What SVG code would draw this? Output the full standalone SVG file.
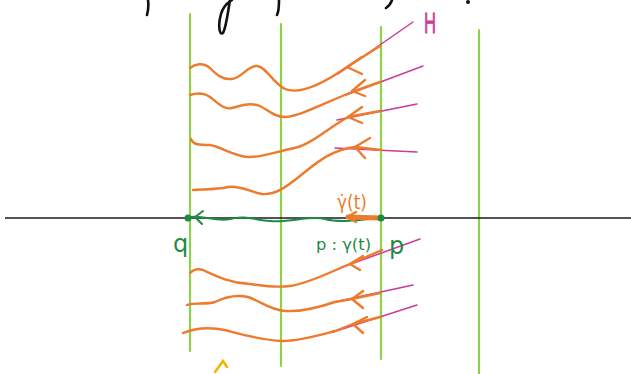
<svg xmlns="http://www.w3.org/2000/svg" width="631" height="374" viewBox="0 0 631 374">
<style>
.grid{stroke:#8fd14a;stroke-width:2.2;fill:none;stroke-linecap:round}
.axis{stroke:#1a1a1a;stroke-width:1.6;fill:none}
.flow{stroke:#ee7a2c;stroke-width:2.4;fill:none;stroke-linecap:round;stroke-linejoin:round}
.ham{stroke:#cc3a9a;stroke-width:1.5;fill:none;stroke-linecap:round}
.geo{stroke:#1f8a45;stroke-width:2;fill:none;stroke-linecap:round;stroke-linejoin:round}
.ink{stroke:#111;stroke-width:2.6;fill:none;stroke-linecap:round}
.tg{fill:#1f8a45;font-family:"DejaVu Sans",sans-serif}
.to{fill:#ee7a2c;font-family:"DejaVu Sans",sans-serif}
.tm{fill:#cc3a9a;font-family:"Liberation Sans",sans-serif}
</style>
<rect width="631" height="374" fill="#ffffff"/>
<g id="handwriting-fragments">
<path class="ink" d="M148,0 C149,6 148,11 147,15"/>
<path class="ink" d="M230,0 C228,12 226,28 223,33 C219,36 218,24 221,14 C223,7 227,3 232,0"/>
<path class="ink" d="M279,0 C279,6 279,11 277,15"/>
<path class="ink" d="M392,0 C391,3 389,6 386,8"/>
<circle cx="468" cy="2" r="2" fill="#111"/>
</g>
<g id="grid-lines">
<line class="grid" x1="190" y1="14" x2="190" y2="351"/>
<line class="grid" x1="281" y1="24" x2="281" y2="366"/>
<line class="grid" x1="381" y1="27" x2="381" y2="359"/>
<line class="grid" x1="479" y1="30" x2="479" y2="374"/>
</g>
<g id="axis">
<line class="axis" x1="5" y1="218" x2="631" y2="218"/>
</g>
<g id="connectors">
<g id="hamiltonian-lines">
<line class="ham" x1="413" y1="22" x2="338" y2="74"/>
<line class="ham" x1="423" y1="66" x2="346" y2="95"/>
<line class="ham" x1="417" y1="104" x2="337" y2="120"/>
<line class="ham" x1="417" y1="152" x2="335" y2="148"/>
<line class="ham" x1="420" y1="239" x2="340" y2="268"/>
<line class="ham" x1="413" y1="285" x2="330" y2="303"/>
<line class="ham" x1="417" y1="305" x2="333" y2="332"/>
</g>
<g id="flow-curves">
<path class="flow" d="M190,68 C195,64 203,62 210,68 C216,74 222,80 232,79 C242,78 248,65 257,66 C266,67 272,82 285,89 C298,94 320,86 347,67 L380,46"/>
<polyline class="flow" points="362,57 347,67 362,74"/>
<path class="flow" d="M190,95 C196,93 203,92 210,97 C218,103 224,110 232,108 C240,106 250,102 260,106 C268,110 274,117 285,117 C300,116 320,105 352,92 L380,82"/>
<polyline class="flow" points="365,80 352,91 365,96"/>
<path class="flow" d="M191,139 C193,145 200,145 210,145 C222,147 235,157 250,157 C262,157 275,152 290,149 C310,146 325,130 348,117 L380,111"/>
<polyline class="flow" points="362,107 348,117 362,123"/>
<path class="flow" d="M193,190 C202,189 215,190 228,187 C240,185 250,192 262,194 C275,195 285,188 300,176 C315,164 330,150 355,147 L381,150"/>
<polyline class="flow" points="370,138 355,147 365,158"/>
<path class="flow" d="M190,273 C193,270 197,268 203,270 C212,274 228,283 250,284 C265,286 275,288 290,286 C310,283 330,272 350,264 L382,250"/>
<polyline class="flow" points="363,256 350,264 360,270"/>
<path class="flow" d="M187,305 C195,302 205,305 215,302 C225,297 235,294 248,297 C262,302 270,310 285,311 C300,312 320,307 335,302 L352,299 L380,293"/>
<polyline class="flow" points="363,291 352,299 363,308"/>
<path class="flow" d="M183,333 C195,328 210,327 225,330 C240,334 260,340 282,341 C300,341 320,335 335,331 L353,324 L380,317"/>
<polyline class="flow" points="367,317 353,324 363,333"/>
</g>
<g id="geodesic">
<path class="geo" d="M380,218 C360,220 340,223 325,219 C310,215 290,223 270,221 C255,220 245,215 230,219 C215,222 205,215 190,217"/>
<polyline class="geo" points="203,211 195,217 202,224"/>
</g>
<g id="velocity">
<line x1="380" y1="218" x2="348" y2="217" stroke="#ee7a2c" stroke-width="5" stroke-linecap="round"/>
<polyline class="flow" points="356,212 347,217 356,222"/>
</g>
<path id="caret" d="M215,372 L223,361 L227,367" stroke="#f5b400" stroke-width="2.5" fill="none" stroke-linecap="round"/>
</g>
<g id="node-q">
<circle cx="188" cy="218" r="3.5" fill="#1f8a45"/>
<text class="tg" x="173" y="252" font-size="24">q</text>
</g>
<g id="node-p">
<circle cx="381" cy="218" r="3.5" fill="#1f8a45"/>
<text class="tg" x="389" y="254" font-size="24">p</text>
</g>
<g id="label-gamma">
<text class="tg" x="316" y="250" font-size="16" textLength="55" lengthAdjust="spacingAndGlyphs">p : γ(t)</text>
</g>
<g id="label-gammadot">
<text class="to" x="337" y="209" font-size="19" textLength="30" lengthAdjust="spacingAndGlyphs">γ̇(t)</text>
</g>
<g id="label-H">
<text class="tm" x="424" y="33" font-size="30" textLength="12" lengthAdjust="spacingAndGlyphs" stroke="#cc3a9a" stroke-width="0.8">H</text>
</g>
</svg>
